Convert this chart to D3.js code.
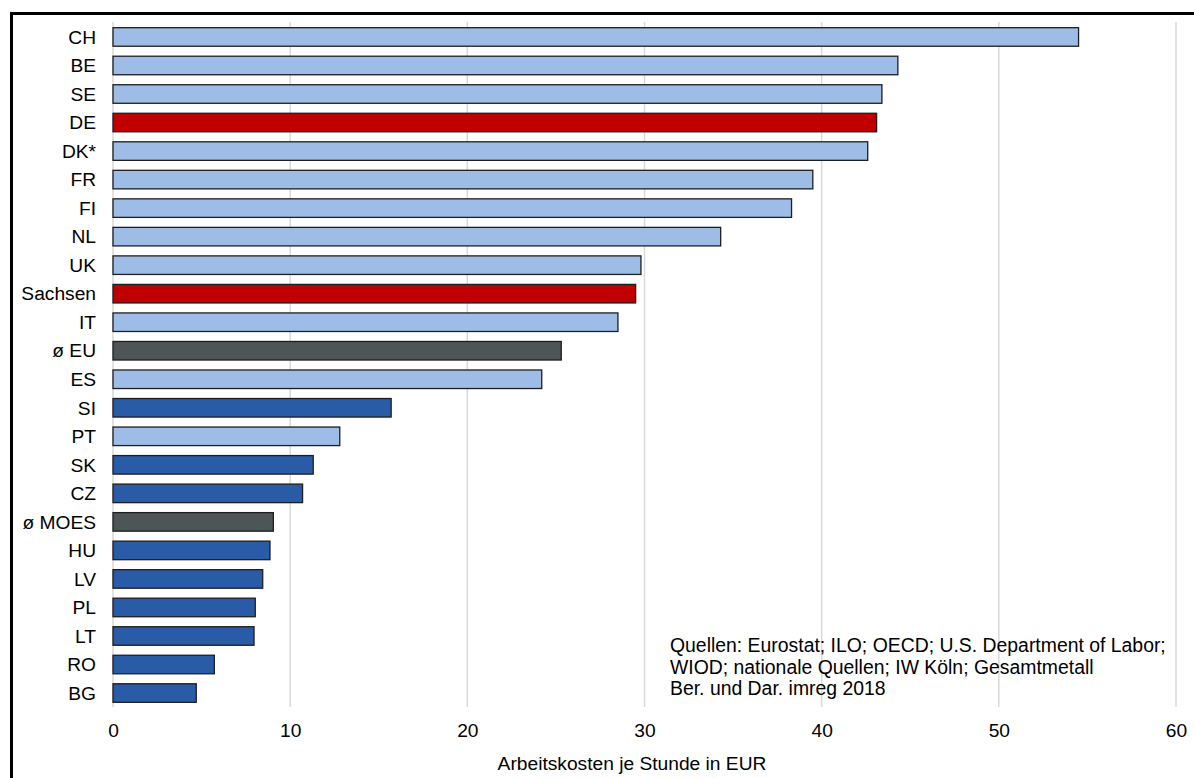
<!DOCTYPE html>
<html>
<head>
<meta charset="utf-8">
<script src="https://cdn.jsdelivr.net/npm/d3@7/dist/d3.min.js"></script>
<style>
  html, body { margin: 0; padding: 0; background: #fff; }
  svg { display: block; font-family: "Liberation Sans", Arial, sans-serif; }
</style>
</head>
<body>
<svg id="chart" width="1194" height="778"></svg>
<script>
// Arbeitskosten je Stunde (EUR), Verarbeitendes Gewerbe
const countries = ["CH", "BE", "SE", "DE", "DK*", "FR", "FI", "NL", "UK", "Sachsen", "IT", "ø EU", "ES",
                   "SI", "PT", "SK", "CZ", "ø MOES", "HU", "LV", "PL", "LT", "RO", "BG"];
const costs = [54.5, 44.3, 43.4, 43.1, 42.6, 39.5, 38.3, 34.3, 29.8, 29.5, 28.5, 25.3, 24.2,
               15.7, 12.8, 11.3, 10.7, 9.05, 8.86, 8.45, 8.03, 7.96, 5.72, 4.70];
// group: w = Westeuropa, d = Deutschland/Sachsen, a = Durchschnitt, o = Mittel- und Osteuropa
const groups = ["w", "w", "w", "d", "w", "w", "w", "w", "w", "d", "w", "a", "w",
                "o", "w", "o", "o", "a", "o", "o", "o", "o", "o", "o"];
const xTicks = [0, 10, 20, 30, 40, 50, 60];
const sourceLines = [
  "Quellen: Eurostat; ILO; OECD; U.S. Department of Labor;",
  "WIOD; nationale Quellen; IW Köln; Gesamtmetall",
  "Ber. und Dar. imreg 2018"
];
const axisTitle = "Arbeitskosten je Stunde in EUR";

const colors = { w: "#9DBDE7", d: "#C00000", a: "#4D5556", o: "#2A5BA7" };
const fontSize = 19.2;

const svg = d3.select("#chart");
const data = countries.map((c, i) => ({ c, v: costs[i], g: groups[i] }));

const x = d3.scaleLinear().domain([0, 60]).range([113, 1176]);
const y = d3.scaleBand().domain(countries).range([22.7, 707.3])
  .paddingInner(0.35).paddingOuter(0.175);

// frame
svg.append("rect")
  .attr("x", 11.5).attr("y", 13.5)
  .attr("width", 1200).attr("height", 800)
  .attr("fill", "none").attr("stroke", "#000").attr("stroke-width", 3);

// vertical gridlines
svg.append("g").selectAll("line").data(xTicks).join("line")
  .attr("x1", d => x(d)).attr("x2", d => x(d))
  .attr("y1", 22).attr("y2", 707)
  .attr("stroke", "#D9D9D9").attr("stroke-width", 1.5);

// bars
svg.append("g").selectAll("rect").data(data).join("rect")
  .attr("x", x(0))
  .attr("y", d => y(d.c))
  .attr("width", d => x(d.v) - x(0))
  .attr("height", y.bandwidth())
  .attr("fill", d => colors[d.g])
  .attr("stroke", "#1E1E1E").attr("stroke-width", 1.3);

// category labels
svg.append("g").selectAll("text").data(data).join("text")
  .attr("x", 96)
  .attr("y", d => y(d.c) + y.bandwidth() / 2)
  .attr("dy", "0.35em")
  .attr("text-anchor", "end")
  .attr("font-size", fontSize)
  .attr("fill", "#000")
  .text(d => d.c);

// x axis tick labels
const xAxis = d3.axisBottom(x).tickValues(xTicks).tickSize(0).tickPadding(0);
const gx = svg.append("g").attr("transform", "translate(0,723)").call(xAxis);
gx.select(".domain").remove();
gx.selectAll("text")
  .attr("font-size", fontSize)
  .attr("font-family", "Liberation Sans, Arial, sans-serif")
  .attr("fill", "#000")
  .attr("dy", "0.72em");

// axis title
svg.append("text")
  .attr("x", 632).attr("y", 770)
  .attr("text-anchor", "middle")
  .attr("font-size", fontSize)
  .attr("fill", "#000")
  .text(axisTitle);

// source note
svg.append("g").selectAll("text").data(sourceLines).join("text")
  .attr("x", 670)
  .attr("y", (d, i) => 652 + i * 21.5)
  .attr("font-size", 19.4)
  .attr("fill", "#000")
  .text(d => d);
</script>
</body>
</html>
